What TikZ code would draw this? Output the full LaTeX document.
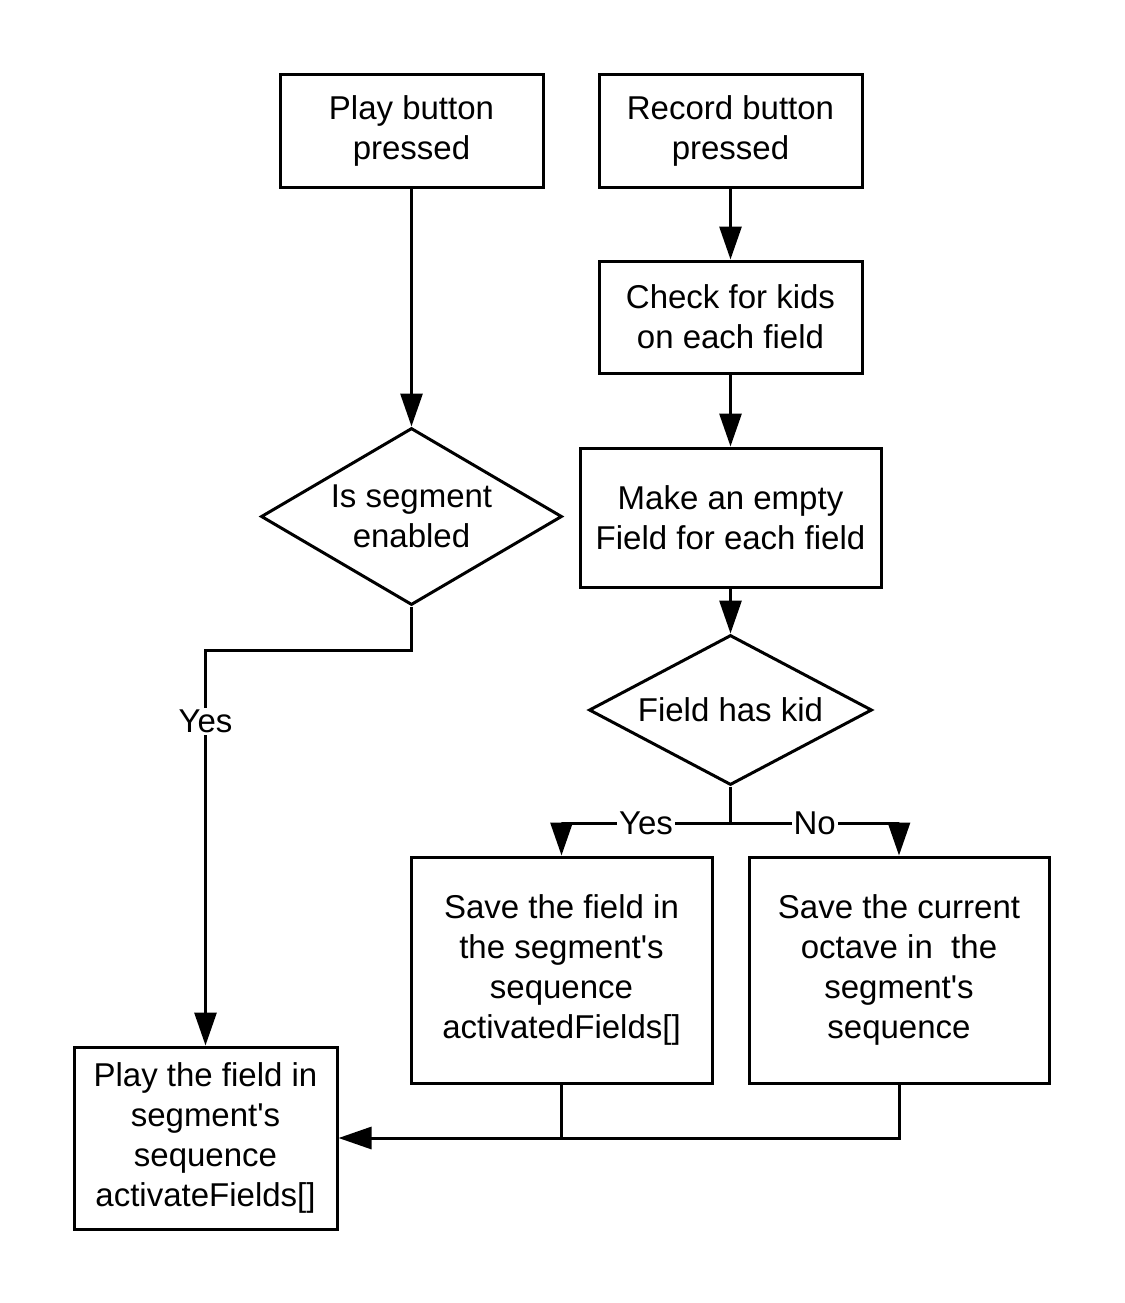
\documentclass[tikz,border=0pt]{standalone}
\usepackage{fontspec}
\setmainfont{Liberation Sans}
\usetikzlibrary{shapes.geometric,arrows.meta}

\begin{document}
\begin{tikzpicture}[
  x=0.5pt, y=-0.5pt,
  line width=1.5pt,
  every node/.style={font=\fontsize{16.5}{20}\selectfont, align=center},
  process/.style={rectangle, draw, inner sep=0pt},
  decision/.style={diamond, draw, inner sep=0pt},
  answer/.style={fill=white, inner sep=1pt},
  flow/.style={-{Triangle[width=11pt,length=16.5pt]}}
]
  \useasboundingbox (0,0) rectangle (1125,1303);

  % left branch
  \node[process, minimum width=131.5pt, minimum height=56.5pt] (play) at (411.5,130.5) {Play button\\pressed};
  \node[decision, aspect=1.7, minimum width=150.5pt, minimum height=88.5pt] (enabled) at (411.5,516.5) {Is segment\\enabled};
  \node[process, minimum width=131.5pt, minimum height=91pt] (playfield) at (205.5,1138) {Play the field in\\segment\textquotesingle s\\sequence\\activateFields[]};

  % right branch
  \node[process, minimum width=131.5pt, minimum height=56.5pt] (record) at (730.5,130.5) {Record button\\pressed};
  \node[process, minimum width=131.5pt, minimum height=56pt] (check) at (730.5,317) {Check for kids\\on each field};
  \node[process, minimum width=150.5pt, minimum height=69.5pt] (empty) at (730.5,517.5) {Make an empty\\Field for each field};
  \node[decision, aspect=1.89, minimum width=141.5pt, minimum height=75pt] (haskid) at (730.5,710) {Field has kid};
  \node[process, minimum width=150.5pt, minimum height=113pt] (savefield) at (561.5,970) {Save the field in\\the segment\textquotesingle s\\sequence\\activatedFields[]};
  \node[process, minimum width=150pt, minimum height=113pt] (saveoctave) at (899,970) {Save the current\\octave in~ the\\segment\textquotesingle s\\sequence};

  \draw[flow] (play) -- (enabled);
  \draw[flow] (enabled.south) -- ++(0,44) -| node[answer, pos=0.59] {Yes} (playfield.north);

  \draw[flow] (record) -- (check);
  \draw[flow] (check) -- (empty);
  \draw[flow] (empty) -- (haskid);
  \draw[flow] (haskid.south) -- ++(0,37) coordinate (split) -| node[answer, pos=0.25] {Yes} (savefield.north);
  \draw[flow] (split) -| node[answer, pos=0.25] {No} (saveoctave.north);

  \draw[flow] (savefield.south) |- (playfield.east);
  \draw (saveoctave.south) |- (savefield.south |- playfield.east);
\end{tikzpicture}
\end{document}
